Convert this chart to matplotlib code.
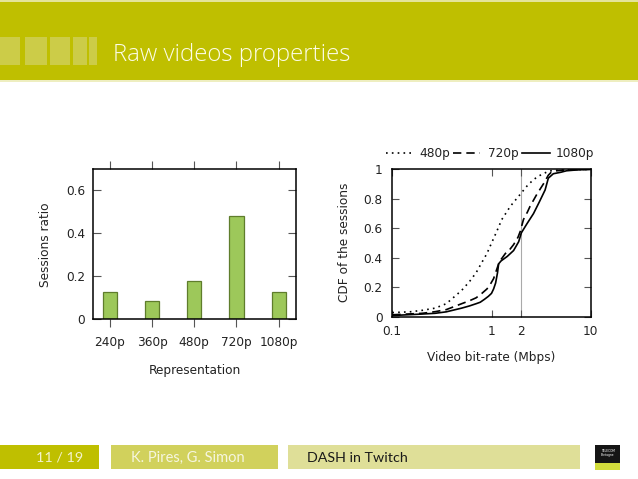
import numpy as np
import matplotlib
matplotlib.use("Agg")
import matplotlib.pyplot as plt
from matplotlib.patches import Rectangle
from matplotlib.lines import Line2D

# bar chart data
reps = ["240p", "360p", "480p", "720p", "1080p"]
ratio = [0.126, 0.085, 0.178, 0.477, 0.126]

# CDF data (Mbps -> cumulative fraction)
x480 = [0.1, 0.15, 0.2, 0.27, 0.35, 0.5, 0.6, 0.7, 0.8, 0.9, 0.97, 1.13, 1.27,
        1.55, 2.0, 2.3, 2.65, 3.0, 3.33, 3.7, 4.0, 5.0, 7.0, 10.0]
y480 = [0.03, 0.035, 0.045, 0.06, 0.09, 0.18, 0.24, 0.30, 0.37, 0.43, 0.48, 0.58, 0.66,
        0.75, 0.84, 0.89, 0.93, 0.955, 0.97, 0.985, 0.99, 0.995, 0.998, 1.0]

x720 = [0.1, 0.2, 0.27, 0.35, 0.5, 0.6, 0.7, 0.8, 0.9, 0.97, 1.05, 1.1, 1.18, 1.25,
        1.38, 1.5, 1.67, 1.85, 1.95, 2.1, 2.3, 2.45, 2.86, 3.33, 3.74, 4.0, 4.5, 5.5, 7.0, 10.0]
y720 = [0.015, 0.025, 0.036, 0.05, 0.09, 0.11, 0.13, 0.16, 0.19, 0.22, 0.26, 0.30, 0.36, 0.39,
        0.43, 0.45, 0.49, 0.54, 0.58, 0.66, 0.71, 0.75, 0.83, 0.90, 0.96, 0.98, 0.99, 0.995, 0.998, 1.0]

x1080 = [0.1, 0.2, 0.27, 0.35, 0.5, 0.6, 0.7, 0.77, 0.85, 0.93, 1.0, 1.05, 1.1, 1.15, 1.18,
         1.25, 1.44, 1.67, 1.88, 2.0, 2.27, 2.65, 3.04, 3.47, 3.74, 4.2, 5.0, 5.7, 7.0, 10.0]
y1080 = [0.01, 0.02, 0.025, 0.035, 0.06, 0.075, 0.09, 0.10, 0.12, 0.14, 0.16, 0.19, 0.23, 0.30, 0.36,
         0.38, 0.41, 0.45, 0.51, 0.57, 0.63, 0.70, 0.78, 0.86, 0.94, 0.97, 0.98, 0.99, 0.995, 1.0]

W, H = 638, 479
OLIVE = "#bfbf00"
TXT = "#222222"
plt.rcParams["font.family"] = ["DejaVu Sans"]
plt.rcParams["font.size"] = 8.7

fig = plt.figure(figsize=(W / 100, H / 100), dpi=100)


def fx(px):
    return px / W


def fy(py):
    # py measured from the top of the picture
    return 1 - py / H


# ---- header band ----
fig.add_artist(Rectangle((0, fy(80)), 1, fy(0) - fy(80), transform=fig.transFigure,
                         color=OLIVE, lw=0, zorder=0))
fig.add_artist(Rectangle((0, fy(1.5)), 1, fy(0) - fy(1.5), transform=fig.transFigure,
                         color="#e4e49a", lw=0, zorder=1))
fig.add_artist(Rectangle((0, fy(81.5)), 1, fy(80) - fy(81.5), transform=fig.transFigure,
                         color="#eeeec0", lw=0, zorder=1))
# faint logo stripes
for x0, x1 in [(0, 20), (25, 47), (50, 70), (73, 87), (89, 97)]:
    fig.add_artist(Rectangle((fx(x0), fy(65)), fx(x1 - x0), fy(37) - fy(65),
                             transform=fig.transFigure, color="#cccc48", lw=0, zorder=1))
fig.text(fx(113), fy(55), "Raw videos properties", family="Open Sans", fontsize=17.3,
         fontweight="light", color="#fdfde8", va="center", ha="left")

# ---- footer ----
for (x0, x1, col) in [(0, 99, OLIVE), (111, 278, "#d1d15c"), (288, 580, "#dfdf98")]:
    fig.add_artist(Rectangle((fx(x0), fy(469)), fx(x1 - x0), fy(445) - fy(469),
                             transform=fig.transFigure, color=col, lw=0))
fig.text(fx(83), fy(457.5), "11 / 19", family="Lato", fontsize=10.3, color="#f3f3cc",
         ha="right", va="center")
fig.text(fx(188), fy(457.5), "K. Pires, G. Simon", family="Lato", fontsize=10.5,
         color="#f6f6e0", ha="center", va="center")
fig.text(fx(307), fy(457.5), "DASH in Twitch", family="Lato", fontsize=10.3,
         color="#1a1a1a", ha="left", va="center")
fig.add_artist(Rectangle((fx(595), fy(463)), fx(25), fy(445) - fy(463),
                         transform=fig.transFigure, color="#151515", lw=0))
fig.add_artist(Rectangle((fx(595), fy(469.5)), fx(25), fy(463) - fy(469.5),
                         transform=fig.transFigure, color="#d2dc3c", lw=0))
fig.text(fx(607.5), fy(453), "TELECOM\nBretagne", fontsize=2.2, color="white",
         ha="center", va="center", linespacing=0.9)

# ---- left: bar chart ----
ax1 = fig.add_axes([fx(93.3), fy(319), fx(296 - 93.3), fy(169.3) - fy(319)])
pos = np.arange(len(reps))
ax1.bar(pos, ratio, width=0.34, color="#9dc85a", edgecolor="#5f7d2c", linewidth=0.9)
ax1.set_xlim(-0.39, 4.41)
ax1.set_ylim(0, 0.695)
ax1.set_xticks(pos)
ax1.set_xticklabels(reps)
ax1.set_yticks([0, 0.2, 0.4, 0.6])
ax1.set_yticklabels(["0", "0.2", "0.4", "0.6"])
ax1.tick_params(axis="x", direction="out", length=6, width=0.8, color="#555555",
                top=True, pad=6, labelcolor=TXT)
ax1.tick_params(axis="y", direction="in", length=6, width=0.8, color="#555555",
                right=True, pad=6, labelcolor=TXT)
for s in ax1.spines.values():
    s.set_linewidth(1.1)
ax1.set_xlabel("Representation", color=TXT)
ax1.xaxis.label.set_va("center")
ax1.xaxis.set_label_coords(0.5, -0.347)
ax1.set_ylabel("Sessions ratio", color=TXT)
ax1.yaxis.label.set_va("center")
ax1.yaxis.set_label_coords(-0.237, 0.497)

# ---- right: CDF ----
ax2 = fig.add_axes([fx(392.3), fy(317), fx(590.7 - 392.3), fy(169.3) - fy(317)])
ax2.axvline(2, color="#aaaaaa", lw=0.8, zorder=1)
ax2.plot(x480, y480, color="black", lw=1.2, ls=(0, (1, 2.5)), zorder=3)
ax2.plot(x720, y720, color="black", lw=1.2, ls=(0, (5, 3)), zorder=3)
ax2.plot(x1080, y1080, color="black", lw=1.2, ls="-", zorder=3)
ax2.set_xscale("log")
ax2.set_xlim(0.1, 10)
ax2.set_ylim(0, 1)
ax2.set_xticks([0.1, 1, 2, 10])
ax2.set_xticklabels(["0.1", "1", "2", "10"])
ax2.xaxis.set_minor_locator(matplotlib.ticker.NullLocator())
ax2.set_yticks([0, 0.2, 0.4, 0.6, 0.8, 1])
ax2.set_yticklabels(["0", "0.2", "0.4", "0.6", "0.8", "1"])
ax2.tick_params(axis="both", direction="in", length=5, width=0.8, color="#555555",
                top=True, right=True, labelcolor=TXT)
ax2.tick_params(axis="x", pad=6)
ax2.tick_params(axis="y", pad=7)
for s in ax2.spines.values():
    s.set_linewidth(1.1)
ax2.set_xlabel("Video bit-rate (Mbps)", color=TXT)
ax2.xaxis.label.set_va("center")
ax2.xaxis.set_label_coords(0.497, -0.276)
ax2.set_ylabel("CDF of the sessions", color=TXT)
ax2.yaxis.label.set_va("center")
ax2.yaxis.set_label_coords(-0.239, 0.508)

# legend row above the CDF
leg_y = fy(153)
for (x0, x1, tx, lab, ls) in [(386, 414, 419, "480p", (0, (1, 2.5))),
                              (453, 480, 488, "720p", (0, (5, 3))),
                              (522, 550, 556, "1080p", "-")]:
    fig.add_artist(Line2D([fx(x0), fx(x1)], [leg_y, leg_y], transform=fig.transFigure,
                          color="black", lw=1.2, ls=ls))
    fig.text(fx(tx), leg_y, lab, color=TXT, ha="left", va="center")

fig.savefig("out.png", dpi=100)
